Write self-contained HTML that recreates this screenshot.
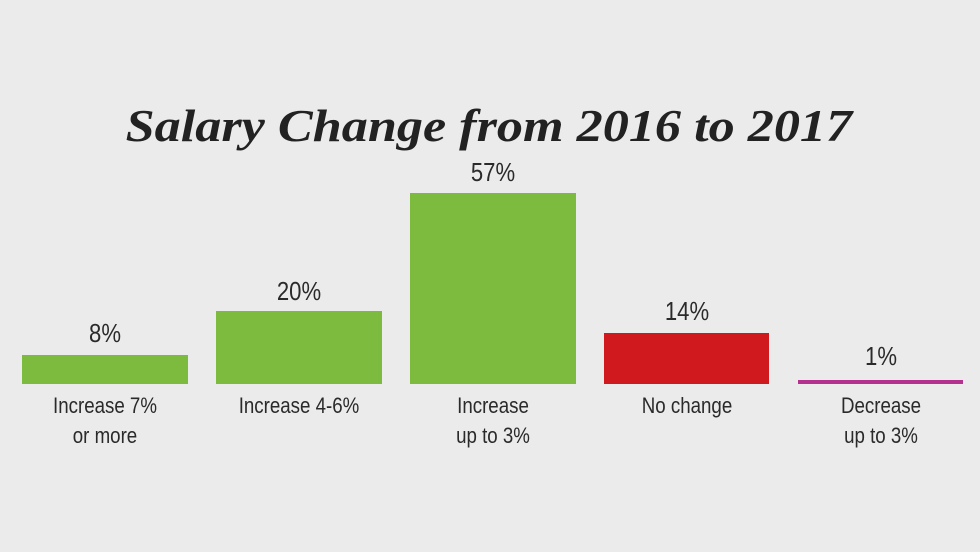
<!DOCTYPE html>
<html><head><meta charset="utf-8"><style>
body{margin:0;width:980px;height:552px;background:#ebebeb;position:relative;overflow:hidden;font-family:"Liberation Sans Narrow","Liberation Sans",sans-serif;color:#2a2a2a}
.t{position:absolute;left:0;width:980px;top:100px;text-align:center;font-family:"Liberation Serif",serif;font-weight:bold;font-style:italic;font-size:45px;color:#222;transform:scaleX(1.16);transform-origin:497px 0}
.b{position:absolute;background:#7cbb3e}
.v{position:absolute;width:166px;text-align:center;font-size:26px;transform:scaleX(0.85)}
.c{position:absolute;width:166px;text-align:center;font-size:22px;line-height:30px;transform:scaleX(0.85)}
</style></head><body>
<div class="t">Salary Change from 2016 to 2017</div>
<div class="b" style="left:22px;top:355px;width:166px;height:29px"></div>
<div class="b" style="left:216px;top:311px;width:166px;height:73px"></div>
<div class="b" style="left:410px;top:193px;width:166px;height:191px"></div>
<div class="b" style="left:604px;top:333px;width:165px;height:51px;background:#d0181f"></div>
<div class="b" style="left:798px;top:380px;width:165px;height:4px;background:#b4318f"></div>
<div class="v" style="left:22px;top:318px">8%</div>
<div class="v" style="left:216px;top:276px">20%</div>
<div class="v" style="left:410px;top:157px">57%</div>
<div class="v" style="left:604px;top:296px">14%</div>
<div class="v" style="left:798px;top:341px">1%</div>
<div class="c" style="left:22px;top:391px">Increase 7%<br>or more</div>
<div class="c" style="left:216px;top:391px">Increase 4-6%</div>
<div class="c" style="left:410px;top:391px">Increase<br>up to 3%</div>
<div class="c" style="left:604px;top:391px">No change</div>
<div class="c" style="left:798px;top:391px">Decrease<br>up to 3%</div>
</body></html>
